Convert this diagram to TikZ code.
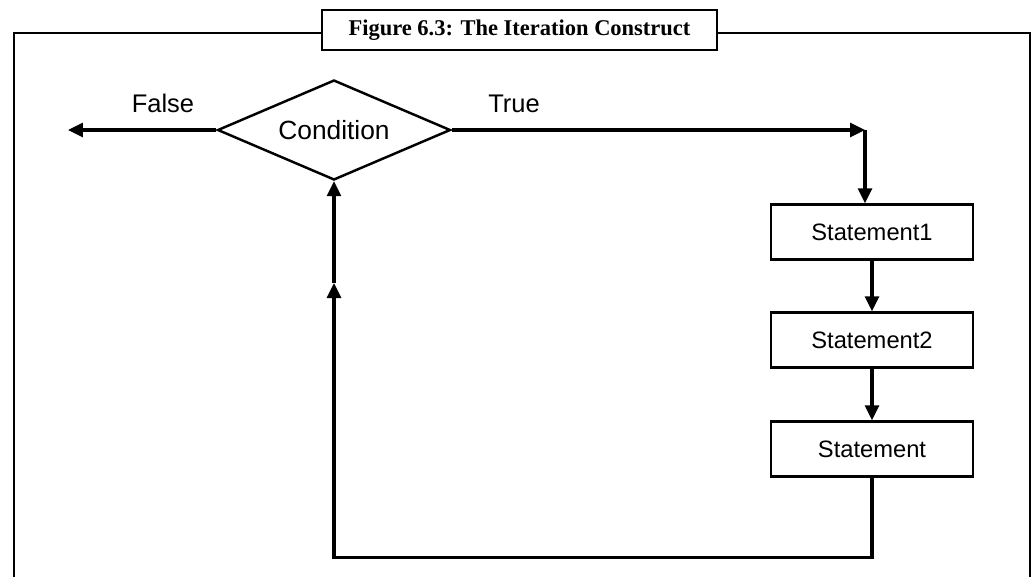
\documentclass[tikz,border=0pt]{standalone}
\usepackage{fontspec}
\setmainfont{Liberation Sans}
\newfontfamily\captionfont{Liberation Serif}
\usetikzlibrary{shapes.geometric,arrows.meta}
\tikzset{
  flow/.style={line width=1.8pt, -{Triangle[length=0.3cm,width=0.28cm]}},
  stmt/.style={draw, line width=1.4pt, minimum width=4.04cm, minimum height=1.1cm, inner sep=0pt, font=\fontsize{13.5}{15}\selectfont},
  decision/.style={draw, diamond, aspect=2.33, line width=1.4pt, minimum width=4.66cm, minimum height=2cm, inner sep=0pt, font=\fontsize{15}{17}\selectfont},
  label/.style={font=\fontsize{14.5}{16}\selectfont},
  frameline/.style={line width=1.4pt},
  titlebox/.style={draw, fill=white, line width=1.4pt, minimum width=7.9cm, minimum height=0.8cm, font=\captionfont\bfseries\fontsize{12.8}{14}\selectfont}
}
\begin{document}
\begin{tikzpicture}[x=0.02cm,y=-0.02cm]
				\useasboundingbox (0,0) rectangle (1034,576);
				% outer frame
				\coordinate (frametl) at (14,33);
				\coordinate (frametr) at (1030,33);
				\draw[frameline] (519,33) -- (frametl) -- (14,600);
				\draw[frameline] (519,33) -- (frametr) -- (1030,600);
				\node[titlebox] (title) at (519.5,30) {Figure 6.3: The Iteration Construct};
				% decision
				\node[decision] (cond) at (334,130) {Condition};
				\coordinate (falseend) at (68,130);
				\coordinate (turn) at (865,130);
				\draw[flow] (cond.west) -- (falseend);
				\draw[flow] (cond.east) -- (turn);
				\node[label] (falselbl) at (163,103) {False};
				\node[label] (truelbl) at (514,104) {True};
				% statements
				\node[stmt] (s1) at (872,232) {Statement1};
				\node[stmt] (s2) at (872,340) {Statement2};
				\node[stmt] (s3) at (872,449) {Statement};
				\draw[flow] (turn) -- (turn |- s1.north);
				\draw[flow] (s1.south) -- (s2.north);
				\draw[flow] (s2.south) -- (s3.north);
				% loop back
				\coordinate (loopup) at (334,283);
				\draw[flow] (s3.south) -- ++(0,80) -| (loopup);
				\draw[flow] (loopup) -- (cond.south);
			\end{tikzpicture}
\end{document}
